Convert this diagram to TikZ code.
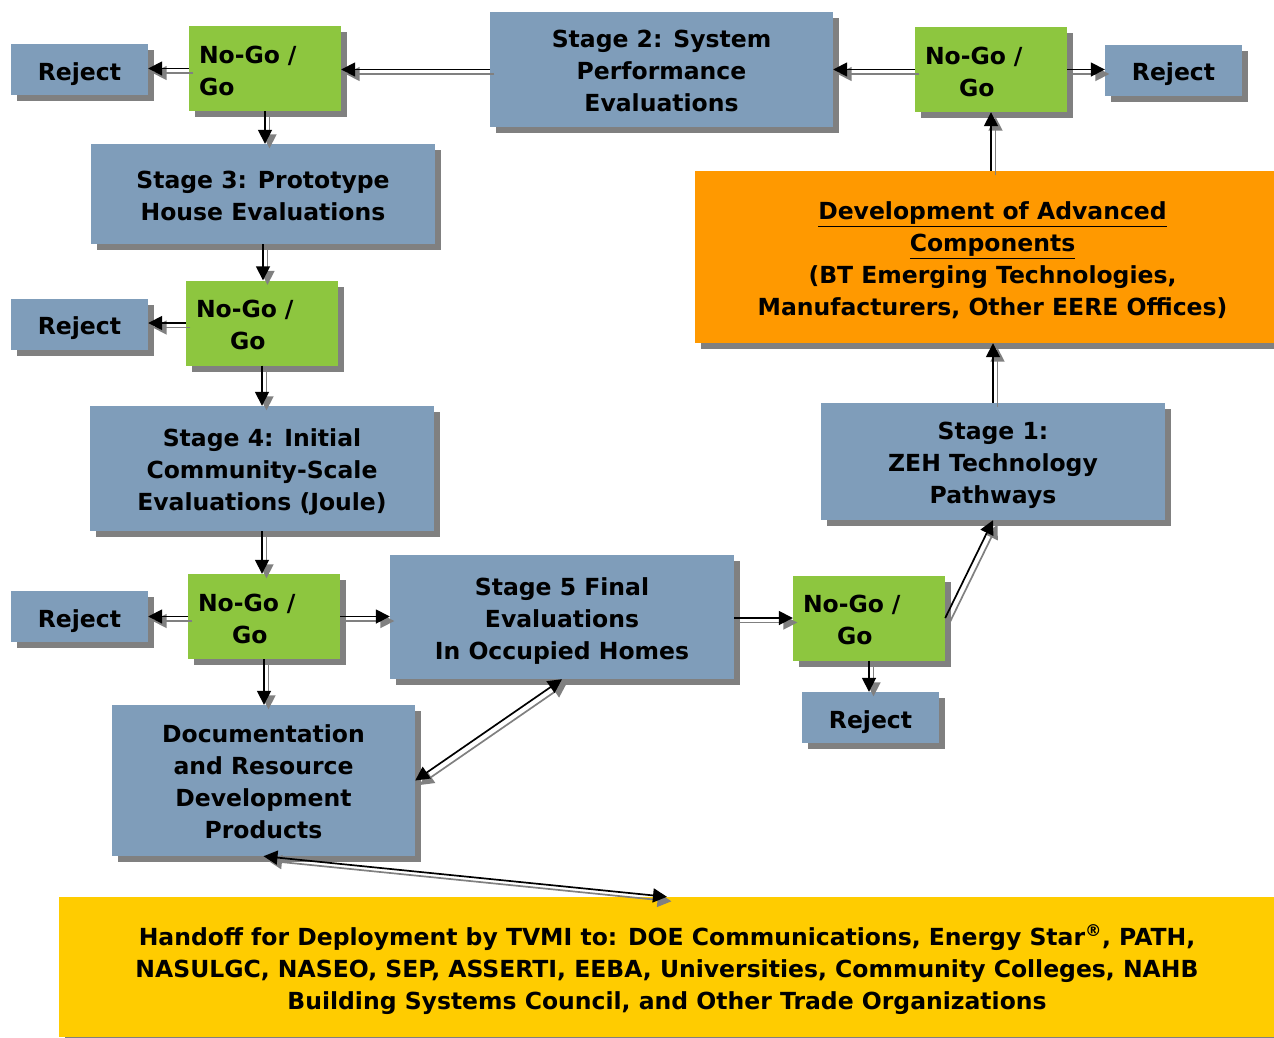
\documentclass[tikz,border=0pt]{standalone}
\usepackage{fontspec}
\setmainfont{DejaVu Sans}
\usetikzlibrary{arrows.meta,shadows}
\definecolor{boxblue}{RGB}{127,157,186}
\definecolor{gogreen}{RGB}{141,198,63}
\definecolor{devorange}{RGB}{255,153,0}
\definecolor{handyellow}{RGB}{255,204,0}
\definecolor{shgray}{RGB}{128,128,128}
\newcommand\topstrut{\rule{0pt}{27pt}}
\newcommand\botstrut{\rule[-6pt]{0pt}{0pt}}
\newcommand\fl[1][24]{\rule{0pt}{#1pt}}
\tikzset{
  base/.style={inner sep=0pt, font=\bfseries\fontsize{23.5}{32}\selectfont, text=black,
     general shadow={shadow xshift=6pt, shadow yshift=-6pt, fill=shgray}},
  strutted/.style={execute at begin node=\topstrut, execute at end node=\botstrut},
  bluebox/.style={base, fill=boxblue, align=center},
  rejbox/.style={bluebox, strutted, minimum width=137pt, minimum height=51pt},
  gobox/.style={base, strutted, fill=gogreen, align=left, inner xsep=10pt, text width=132pt, minimum height=85pt},
  orangebox/.style={base, fill=devorange, align=center},
  yellowbox/.style={base, fill=handyellow, align=center},
  arrtip/.style={-{Triangle[length=14pt,width=14pt]}},
  mainline/.style={black, line width=1.7pt, arrtip},
  shadline/.style={shgray, line width=1.7pt, arrtip,
     transform canvas={shift={(4.5,4.5)}}},
  both/.style={{Triangle[length=14pt,width=14pt]}-{Triangle[length=14pt,width=14pt]}},
}
\newcommand\arr[2][]{\draw[shadline,#1] #2; \draw[mainline,#1] #2;}
\begin{document}
\begin{tikzpicture}[x=1pt,y=-1pt]
\useasboundingbox (0,0) rectangle (1274,1037);
\clip (0,0) rectangle (1274,1037);
% boxes
\node[rejbox] (rej1) at (79.5,69.5) {Reject};
\node[gobox] (go1) at (265,68.5) {No-Go /\\Go};
\node[bluebox, minimum width=343pt, minimum height=115pt] (s2) at (661.5,69.5) {\fl[21]Stage 2: System\\Performance\\Evaluations};
\node[gobox] (go2) at (991,69.5) {No-Go /\\\hspace*{34pt}Go};
\node[rejbox] (rej2) at (1173.5,70) {Reject};
\node[orangebox, minimum width=595pt, minimum height=172pt] (dev) at (992.5,257)
  {\fl[25]\underline{Development of Advanced}\\\underline{Components}\\(BT Emerging Technologies,\\Manufacturers, Other EERE Offices)};
\node[bluebox, minimum width=344pt, minimum height=100pt] (s3) at (263,194) {\fl[21]Stage 3: Prototype\\House Evaluations};
\node[gobox] (go3) at (262,323) {No-Go /\\\hspace*{34pt}Go};
\node[rejbox] (rej3) at (79.5,324) {Reject};
\node[bluebox, minimum width=344pt, minimum height=125pt] (s4) at (262,468.5) {\fl[24]Stage 4: Initial\\Community-Scale\\Evaluations (Joule)};
\node[bluebox, minimum width=344pt, minimum height=117pt] (s1) at (993,461.5) {\fl[26]Stage 1:\\ZEH Technology\\Pathways};
\node[gobox] (go4) at (264,616.5) {No-Go /\\\hspace*{34pt}Go};
\node[rejbox] (rej4) at (79.5,616.5) {Reject};
\node[bluebox, minimum width=344pt, minimum height=124pt] (s5) at (562,617) {\fl[26]Stage 5 Final\\Evaluations\\In Occupied Homes};
\node[gobox] (go5) at (869,618) {No-Go /\\\hspace*{34pt}Go};
\node[rejbox] (rej5) at (870.5,717.5) {Reject};
\node[bluebox, minimum width=303pt, minimum height=151pt] (doc) at (263.5,780.5) {\fl[21]Documentation\\and Resource\\Development\\Products};
\node[yellowbox, minimum width=1216pt, minimum height=140pt] (hand) at (667,967)
  {\fl[26]Handoff for Deployment by TVMI to: DOE Communications, Energy Star\textsuperscript{®}, PATH,\\NASULGC, NASEO, SEP, ASSERTI, EEBA, Universities, Community Colleges, NAHB\\Building Systems Council, and Other Trade Organizations};
% connectors
\arr{(s2.west) -- (s2.west -| go1.east)}
\arr{(go1.west) -- (go1.west -| rej1.east)}
\arr{(go1.south) -- (go1.south |- s3.north)}
\arr{(go2.west) -- (go2.west -| s2.east)}
\arr{(go2.east) -- (go2.east -| rej2.west)}
\arr{(go2.south |- dev.north) -- (go2.south)}
\arr{(s1.north) -- (s1.north |- dev.south)}
\arr{(go5.east) -- (s1.south)}
\arr{(s3.south) -- (s3.south |- go3.north)}
\arr{(go3.west) -- (go3.west -| rej3.east)}
\arr{(go3.south) -- (go3.south |- s4.north)}
\arr{(s4.south) -- (s4.south |- go4.north)}
\arr{(go4.west) -- (go4.west -| rej4.east)}
\arr{(go4.east) -- (go4.east -| s5.west)}
\arr{(go4.south) -- (go4.south |- doc.north)}
\arr{(s5.east |- go5.west) -- (go5.west)}
\arr{(go5.south) -- (go5.south |- rej5.north)}
\arr[both]{(doc.east) -- (s5.south)}
\arr[both]{(doc.south) -- (hand.north)}
\end{tikzpicture}
\end{document}
